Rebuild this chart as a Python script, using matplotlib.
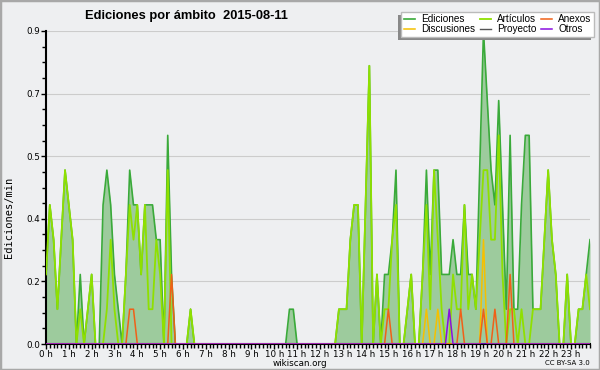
import numpy as np
import matplotlib
matplotlib.use("Agg")
import matplotlib.pyplot as plt
from matplotlib.patches import Rectangle
from matplotlib.ticker import FixedLocator, MultipleLocator

# Edits per 10-minute bin, 144 bins from 00:00 to 23:50
total = [
    2, 4, 3, 1, 3, 5, 4, 3, 0, 2, 0, 1,
    2, 0, 0, 4, 5, 4, 2, 1, 0, 2, 5, 4,
    4, 2, 4, 4, 4, 3, 3, 0, 6, 2, 0, 0,
    0, 0, 1, 0, 0, 0, 0, 0, 0, 0, 0, 0,
    0, 0, 0, 0, 0, 0, 0, 0, 0, 0, 0, 0,
    0, 0, 0, 0, 1, 1, 0, 0, 0, 0, 0, 0,
    0, 0, 0, 0, 0, 1, 1, 1, 3, 4, 4, 0,
    4, 8, 0, 2, 0, 2, 2, 3, 5, 0, 0, 1,
    2, 0, 0, 2, 5, 2, 5, 5, 2, 2, 2, 3,
    2, 2, 4, 2, 2, 1, 5, 9, 7, 5, 4, 7,
    4, 1, 6, 1, 1, 4, 6, 6, 1, 1, 1, 3,
    5, 3, 2, 0, 0, 2, 0, 0, 1, 1, 2, 3,
]
articulos = [
    2, 4, 3, 1, 3, 5, 4, 3, 0, 1, 0, 1,
    2, 0, 0, 0, 1, 3, 1, 0, 0, 2, 4, 3,
    4, 2, 4, 1, 1, 3, 2, 0, 5, 0, 0, 0,
    0, 0, 1, 0, 0, 0, 0, 0, 0, 0, 0, 0,
    0, 0, 0, 0, 0, 0, 0, 0, 0, 0, 0, 0,
    0, 0, 0, 0, 0, 0, 0, 0, 0, 0, 0, 0,
    0, 0, 0, 0, 0, 1, 1, 1, 3, 4, 4, 0,
    4, 8, 0, 2, 0, 1, 1, 3, 4, 0, 0, 1,
    2, 0, 0, 2, 4, 1, 5, 3, 1, 0, 0, 2,
    1, 1, 4, 1, 2, 1, 3, 5, 5, 3, 3, 6,
    2, 0, 1, 1, 0, 1, 0, 0, 1, 1, 1, 3,
    5, 3, 2, 0, 0, 2, 0, 0, 1, 1, 2, 1,
]
anexos = [0] * 144
discusiones = [0] * 144
proyecto = [0] * 144
otros = [0] * 144
# sparse series: bin -> edits
for b, v in {22: 1, 23: 1, 33: 2, 90: 1, 109: 1, 115: 1, 118: 1, 122: 2}.items():
    anexos[b] = v
for b, v in {100: 1, 103: 1, 115: 3}.items():
    discusiones[b] = v
for b, v in {106: 1}.items():
    otros[b] = v

hours = np.arange(144) / 6.0
def rate(s):
    return np.array(s) / 10.0  # edits per minute

bg = "#eeeff1"
fig = plt.figure(figsize=(6, 3.7), dpi=100, facecolor=bg)
ax = fig.add_axes([46 / 600, 1 - 344 / 370, 544 / 600, 313 / 370])
ax.set_facecolor(bg)

ax.fill_between(hours, rate(total), 0, color="#9dcb9d", lw=0, zorder=1)
ax.plot(hours, rate(total), color="#3aaa3a", lw=1.2, label="Ediciones", zorder=2)
ax.plot(hours, rate(proyecto), color="#555555", lw=1.0, label="Proyecto", zorder=2)
ax.plot(hours, rate(articulos), color="#8fe000", lw=1.3, label="Artículos", zorder=3)
ax.plot(hours, rate(discusiones), color="#f5c000", lw=1.1, label="Discusiones", zorder=4)
ax.plot(hours, rate(anexos), color="#f06018", lw=1.1, label="Anexos", zorder=4)
ax.plot(hours, rate(otros), color="#8a10e0", lw=1.1, label="Otros", zorder=4)

ax.set_xlim(0, 143 / 6)
ax.set_ylim(0, 0.9)

yt = [0, 0.18, 0.36, 0.54, 0.72, 0.9]
ax.yaxis.set_major_locator(FixedLocator(yt))
ax.set_yticklabels([f"{v:.1f}" for v in yt])
ax.yaxis.set_minor_locator(MultipleLocator(0.045))
ax.xaxis.set_major_locator(FixedLocator(range(24)))
ax.set_xticklabels([f"{h} h" for h in range(24)])
ax.xaxis.set_minor_locator(MultipleLocator(1 / 6))
ax.tick_params(which="major", direction="out", length=3.5, width=1, labelsize=6.3, pad=0.5, colors="black")
ax.tick_params(which="minor", direction="out", length=3, width=1)
ax.grid(axis="y", color="#cccccc", lw=0.8)
ax.set_axisbelow(True)
for s in ["top", "right"]:
    ax.spines[s].set_visible(False)
for s in ["left", "bottom"]:
    ax.spines[s].set_linewidth(1.5)

fig.text(85 / 600, 1 - 16 / 370, "Ediciones por ámbito  2015-08-11", fontsize=9.3,
         fontweight="bold", family="Liberation Sans", va="center")
fig.text(9 / 600, 1 - 217 / 370, "Ediciones/min", rotation=90, fontsize=7.5,
         family="DejaVu Sans Mono", va="center", ha="center")
fig.text(300 / 600, 1 - 363 / 370, "wikiscan.org", fontsize=6.3, ha="center", va="center")
fig.text(590 / 600, 1 - 363 / 370, "CC BY-SA 3.0", fontsize=5, ha="right", va="center")

h, l = ax.get_legend_handles_labels()
order = ["Ediciones", "Discusiones", "Artículos", "Proyecto", "Anexos", "Otros"]
hd = dict(zip(l, h))
leg = fig.legend([hd[k] for k in order], order, ncol=3, loc="upper right",
                 bbox_to_anchor=(594 / 600, 1 - 12 / 370), frameon=True,
                 prop={"family": "Liberation Sans", "size": 7.2},
                 fancybox=False, edgecolor="#bbbbbb", framealpha=1, borderpad=0.25,
                 labelspacing=0.0, columnspacing=0.5, handletextpad=0.6, handlelength=1.1,
                 borderaxespad=0)
leg.set_zorder(5)
fig.canvas.draw()
bb = leg.get_window_extent(fig.canvas.get_renderer())
fig.add_artist(Rectangle((bb.x0 - 3, bb.y0 - 3), bb.width, bb.height, transform=None,
                         facecolor="#888888", lw=0, zorder=4))
fig.add_artist(Rectangle((0, 0), 1, 1, transform=fig.transFigure, fill=False,
                         edgecolor="#a8a8a8", lw=2.5, zorder=10))

fig.savefig("out.png", dpi=100, facecolor=bg)
